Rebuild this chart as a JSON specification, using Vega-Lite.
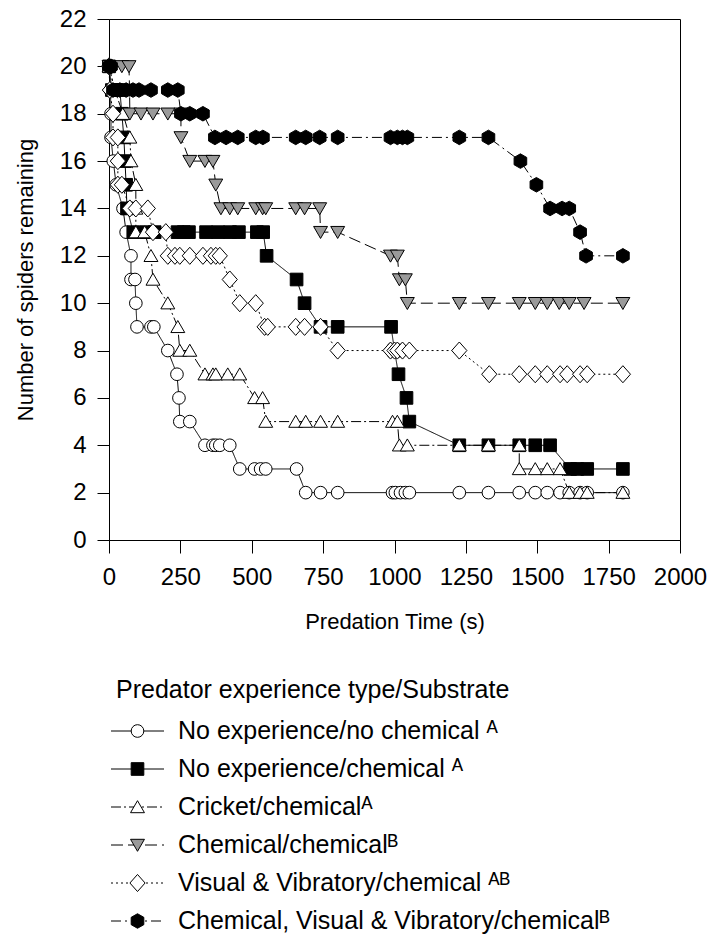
{
  "$schema": "https://vega.github.io/schema/vega-lite/v6.json",
  "padding": {"left": 13, "top": 6, "right": 5, "bottom": 5},
  "background": "white",
  "config": {
    "font": "Liberation Sans",
    "view": {"stroke": "black", "strokeWidth": 1},
    "axis": {"grid": false, "domainColor": "black", "tickColor": "black", "labelColor": "black", "titleColor": "black", "labelFont": "Liberation Sans", "titleFont": "Liberation Sans", "labelFontSize": 24, "titleFontSize": 22, "titleFontWeight": "normal", "domainWidth": 1, "tickWidth": 1, "labelFlush": false}
  },
  "datasets": {
    "pts": [
      {"s":"No experience/no chemical","t":0,"n":20},{"s":"No experience/no chemical","t":5,"n":19},{"s":"No experience/no chemical","t":7,"n":18},{"s":"No experience/no chemical","t":7,"n":17},{"s":"No experience/no chemical","t":15,"n":16},{"s":"No experience/no chemical","t":25,"n":15},{"s":"No experience/no chemical","t":49,"n":14},{"s":"No experience/no chemical","t":60,"n":13},{"s":"No experience/no chemical","t":77,"n":12},{"s":"No experience/no chemical","t":77,"n":11},{"s":"No experience/no chemical","t":91,"n":11},{"s":"No experience/no chemical","t":94,"n":10},{"s":"No experience/no chemical","t":98,"n":9},{"s":"No experience/no chemical","t":147,"n":9},{"s":"No experience/no chemical","t":157,"n":9},{"s":"No experience/no chemical","t":206,"n":8},{"s":"No experience/no chemical","t":238,"n":7},{"s":"No experience/no chemical","t":245,"n":6},{"s":"No experience/no chemical","t":248,"n":5},{"s":"No experience/no chemical","t":283,"n":5},{"s":"No experience/no chemical","t":336,"n":4},{"s":"No experience/no chemical","t":364,"n":4},{"s":"No experience/no chemical","t":374,"n":4},{"s":"No experience/no chemical","t":388,"n":4},{"s":"No experience/no chemical","t":423,"n":4},{"s":"No experience/no chemical","t":458,"n":3},{"s":"No experience/no chemical","t":510,"n":3},{"s":"No experience/no chemical","t":531,"n":3},{"s":"No experience/no chemical","t":549,"n":3},{"s":"No experience/no chemical","t":657,"n":3},{"s":"No experience/no chemical","t":689,"n":2},{"s":"No experience/no chemical","t":741,"n":2},{"s":"No experience/no chemical","t":801,"n":2},{"s":"No experience/no chemical","t":993,"n":2},{"s":"No experience/no chemical","t":1003,"n":2},{"s":"No experience/no chemical","t":1021,"n":2},{"s":"No experience/no chemical","t":1038,"n":2},{"s":"No experience/no chemical","t":1052,"n":2},{"s":"No experience/no chemical","t":1227,"n":2},{"s":"No experience/no chemical","t":1329,"n":2},{"s":"No experience/no chemical","t":1437,"n":2},{"s":"No experience/no chemical","t":1493,"n":2},{"s":"No experience/no chemical","t":1535,"n":2},{"s":"No experience/no chemical","t":1580,"n":2},{"s":"No experience/no chemical","t":1612,"n":2},{"s":"No experience/no chemical","t":1650,"n":2},{"s":"No experience/no chemical","t":1675,"n":2},{"s":"No experience/no chemical","t":1800,"n":2},
      {"s":"No experience/chemical","t":0,"n":20},{"s":"No experience/chemical","t":10,"n":19},{"s":"No experience/chemical","t":25,"n":19},{"s":"No experience/chemical","t":38,"n":19},{"s":"No experience/chemical","t":45,"n":18},{"s":"No experience/chemical","t":52,"n":17},{"s":"No experience/chemical","t":56,"n":16},{"s":"No experience/chemical","t":60,"n":15},{"s":"No experience/chemical","t":63,"n":14},{"s":"No experience/chemical","t":85,"n":13},{"s":"No experience/chemical","t":130,"n":13},{"s":"No experience/chemical","t":160,"n":13},{"s":"No experience/chemical","t":240,"n":13},{"s":"No experience/chemical","t":262,"n":13},{"s":"No experience/chemical","t":280,"n":13},{"s":"No experience/chemical","t":340,"n":13},{"s":"No experience/chemical","t":382,"n":13},{"s":"No experience/chemical","t":424,"n":13},{"s":"No experience/chemical","t":455,"n":13},{"s":"No experience/chemical","t":518,"n":13},{"s":"No experience/chemical","t":540,"n":13},{"s":"No experience/chemical","t":552,"n":12},{"s":"No experience/chemical","t":657,"n":11},{"s":"No experience/chemical","t":685,"n":10},{"s":"No experience/chemical","t":741,"n":9},{"s":"No experience/chemical","t":801,"n":9},{"s":"No experience/chemical","t":988,"n":9},{"s":"No experience/chemical","t":1000,"n":8},{"s":"No experience/chemical","t":1014,"n":7},{"s":"No experience/chemical","t":1042,"n":6},{"s":"No experience/chemical","t":1052,"n":5},{"s":"No experience/chemical","t":1227,"n":4},{"s":"No experience/chemical","t":1329,"n":4},{"s":"No experience/chemical","t":1437,"n":4},{"s":"No experience/chemical","t":1493,"n":4},{"s":"No experience/chemical","t":1545,"n":4},{"s":"No experience/chemical","t":1615,"n":3},{"s":"No experience/chemical","t":1640,"n":3},{"s":"No experience/chemical","t":1675,"n":3},{"s":"No experience/chemical","t":1800,"n":3},
      {"s":"Cricket/chemical","t":0,"n":20},{"s":"Cricket/chemical","t":20,"n":19},{"s":"Cricket/chemical","t":49,"n":18},{"s":"Cricket/chemical","t":73,"n":17},{"s":"Cricket/chemical","t":77,"n":16},{"s":"Cricket/chemical","t":94,"n":15},{"s":"Cricket/chemical","t":94,"n":14},{"s":"Cricket/chemical","t":94,"n":13},{"s":"Cricket/chemical","t":125,"n":13},{"s":"Cricket/chemical","t":147,"n":12},{"s":"Cricket/chemical","t":154,"n":11},{"s":"Cricket/chemical","t":206,"n":10},{"s":"Cricket/chemical","t":241,"n":9},{"s":"Cricket/chemical","t":248,"n":8},{"s":"Cricket/chemical","t":283,"n":8},{"s":"Cricket/chemical","t":336,"n":7},{"s":"Cricket/chemical","t":364,"n":7},{"s":"Cricket/chemical","t":374,"n":7},{"s":"Cricket/chemical","t":416,"n":7},{"s":"Cricket/chemical","t":458,"n":7},{"s":"Cricket/chemical","t":510,"n":6},{"s":"Cricket/chemical","t":538,"n":6},{"s":"Cricket/chemical","t":549,"n":5},{"s":"Cricket/chemical","t":654,"n":5},{"s":"Cricket/chemical","t":689,"n":5},{"s":"Cricket/chemical","t":741,"n":5},{"s":"Cricket/chemical","t":801,"n":5},{"s":"Cricket/chemical","t":993,"n":5},{"s":"Cricket/chemical","t":1010,"n":5},{"s":"Cricket/chemical","t":1017,"n":4},{"s":"Cricket/chemical","t":1045,"n":4},{"s":"Cricket/chemical","t":1227,"n":4},{"s":"Cricket/chemical","t":1329,"n":4},{"s":"Cricket/chemical","t":1437,"n":4},{"s":"Cricket/chemical","t":1437,"n":3},{"s":"Cricket/chemical","t":1493,"n":3},{"s":"Cricket/chemical","t":1535,"n":3},{"s":"Cricket/chemical","t":1580,"n":3},{"s":"Cricket/chemical","t":1612,"n":2},{"s":"Cricket/chemical","t":1650,"n":2},{"s":"Cricket/chemical","t":1675,"n":2},{"s":"Cricket/chemical","t":1800,"n":2},
      {"s":"Chemical/chemical","t":0,"n":20},{"s":"Chemical/chemical","t":45,"n":20},{"s":"Chemical/chemical","t":70,"n":20},{"s":"Chemical/chemical","t":72,"n":19},{"s":"Chemical/chemical","t":73,"n":18},{"s":"Chemical/chemical","t":112,"n":18},{"s":"Chemical/chemical","t":154,"n":18},{"s":"Chemical/chemical","t":206,"n":18},{"s":"Chemical/chemical","t":252,"n":18},{"s":"Chemical/chemical","t":252,"n":17},{"s":"Chemical/chemical","t":283,"n":16},{"s":"Chemical/chemical","t":336,"n":16},{"s":"Chemical/chemical","t":364,"n":16},{"s":"Chemical/chemical","t":374,"n":15},{"s":"Chemical/chemical","t":392,"n":14},{"s":"Chemical/chemical","t":423,"n":14},{"s":"Chemical/chemical","t":451,"n":14},{"s":"Chemical/chemical","t":514,"n":14},{"s":"Chemical/chemical","t":538,"n":14},{"s":"Chemical/chemical","t":549,"n":14},{"s":"Chemical/chemical","t":654,"n":14},{"s":"Chemical/chemical","t":685,"n":14},{"s":"Chemical/chemical","t":738,"n":14},{"s":"Chemical/chemical","t":741,"n":13},{"s":"Chemical/chemical","t":801,"n":13},{"s":"Chemical/chemical","t":986,"n":12},{"s":"Chemical/chemical","t":1010,"n":12},{"s":"Chemical/chemical","t":1017,"n":11},{"s":"Chemical/chemical","t":1038,"n":11},{"s":"Chemical/chemical","t":1045,"n":10},{"s":"Chemical/chemical","t":1227,"n":10},{"s":"Chemical/chemical","t":1329,"n":10},{"s":"Chemical/chemical","t":1437,"n":10},{"s":"Chemical/chemical","t":1493,"n":10},{"s":"Chemical/chemical","t":1535,"n":10},{"s":"Chemical/chemical","t":1577,"n":10},{"s":"Chemical/chemical","t":1612,"n":10},{"s":"Chemical/chemical","t":1664,"n":10},{"s":"Chemical/chemical","t":1800,"n":10},
      {"s":"Visual & Vibratory/chemical","t":0,"n":20},{"s":"Visual & Vibratory/chemical","t":3,"n":19},{"s":"Visual & Vibratory/chemical","t":14,"n":18},{"s":"Visual & Vibratory/chemical","t":14,"n":17},{"s":"Visual & Vibratory/chemical","t":31,"n":17},{"s":"Visual & Vibratory/chemical","t":31,"n":16},{"s":"Visual & Vibratory/chemical","t":31,"n":15},{"s":"Visual & Vibratory/chemical","t":45,"n":15},{"s":"Visual & Vibratory/chemical","t":73,"n":14},{"s":"Visual & Vibratory/chemical","t":94,"n":14},{"s":"Visual & Vibratory/chemical","t":136,"n":14},{"s":"Visual & Vibratory/chemical","t":154,"n":13},{"s":"Visual & Vibratory/chemical","t":199,"n":13},{"s":"Visual & Vibratory/chemical","t":206,"n":12},{"s":"Visual & Vibratory/chemical","t":231,"n":12},{"s":"Visual & Vibratory/chemical","t":248,"n":12},{"s":"Visual & Vibratory/chemical","t":283,"n":12},{"s":"Visual & Vibratory/chemical","t":329,"n":12},{"s":"Visual & Vibratory/chemical","t":357,"n":12},{"s":"Visual & Vibratory/chemical","t":374,"n":12},{"s":"Visual & Vibratory/chemical","t":388,"n":12},{"s":"Visual & Vibratory/chemical","t":423,"n":11},{"s":"Visual & Vibratory/chemical","t":458,"n":10},{"s":"Visual & Vibratory/chemical","t":514,"n":10},{"s":"Visual & Vibratory/chemical","t":545,"n":9},{"s":"Visual & Vibratory/chemical","t":556,"n":9},{"s":"Visual & Vibratory/chemical","t":654,"n":9},{"s":"Visual & Vibratory/chemical","t":685,"n":9},{"s":"Visual & Vibratory/chemical","t":741,"n":9},{"s":"Visual & Vibratory/chemical","t":801,"n":8},{"s":"Visual & Vibratory/chemical","t":986,"n":8},{"s":"Visual & Vibratory/chemical","t":1000,"n":8},{"s":"Visual & Vibratory/chemical","t":1010,"n":8},{"s":"Visual & Vibratory/chemical","t":1028,"n":8},{"s":"Visual & Vibratory/chemical","t":1052,"n":8},{"s":"Visual & Vibratory/chemical","t":1227,"n":8},{"s":"Visual & Vibratory/chemical","t":1332,"n":7},{"s":"Visual & Vibratory/chemical","t":1437,"n":7},{"s":"Visual & Vibratory/chemical","t":1493,"n":7},{"s":"Visual & Vibratory/chemical","t":1535,"n":7},{"s":"Visual & Vibratory/chemical","t":1580,"n":7},{"s":"Visual & Vibratory/chemical","t":1605,"n":7},{"s":"Visual & Vibratory/chemical","t":1650,"n":7},{"s":"Visual & Vibratory/chemical","t":1675,"n":7},{"s":"Visual & Vibratory/chemical","t":1800,"n":7},
      {"s":"Chemical, Visual & Vibratory/chemical","t":0,"n":20},{"s":"Chemical, Visual & Vibratory/chemical","t":7,"n":20},{"s":"Chemical, Visual & Vibratory/chemical","t":14,"n":19},{"s":"Chemical, Visual & Vibratory/chemical","t":38,"n":19},{"s":"Chemical, Visual & Vibratory/chemical","t":60,"n":19},{"s":"Chemical, Visual & Vibratory/chemical","t":84,"n":19},{"s":"Chemical, Visual & Vibratory/chemical","t":105,"n":19},{"s":"Chemical, Visual & Vibratory/chemical","t":147,"n":19},{"s":"Chemical, Visual & Vibratory/chemical","t":206,"n":19},{"s":"Chemical, Visual & Vibratory/chemical","t":241,"n":19},{"s":"Chemical, Visual & Vibratory/chemical","t":252,"n":18},{"s":"Chemical, Visual & Vibratory/chemical","t":283,"n":18},{"s":"Chemical, Visual & Vibratory/chemical","t":329,"n":18},{"s":"Chemical, Visual & Vibratory/chemical","t":371,"n":17},{"s":"Chemical, Visual & Vibratory/chemical","t":410,"n":17},{"s":"Chemical, Visual & Vibratory/chemical","t":451,"n":17},{"s":"Chemical, Visual & Vibratory/chemical","t":514,"n":17},{"s":"Chemical, Visual & Vibratory/chemical","t":539,"n":17},{"s":"Chemical, Visual & Vibratory/chemical","t":654,"n":17},{"s":"Chemical, Visual & Vibratory/chemical","t":689,"n":17},{"s":"Chemical, Visual & Vibratory/chemical","t":738,"n":17},{"s":"Chemical, Visual & Vibratory/chemical","t":801,"n":17},{"s":"Chemical, Visual & Vibratory/chemical","t":986,"n":17},{"s":"Chemical, Visual & Vibratory/chemical","t":1010,"n":17},{"s":"Chemical, Visual & Vibratory/chemical","t":1028,"n":17},{"s":"Chemical, Visual & Vibratory/chemical","t":1045,"n":17},{"s":"Chemical, Visual & Vibratory/chemical","t":1227,"n":17},{"s":"Chemical, Visual & Vibratory/chemical","t":1329,"n":17},{"s":"Chemical, Visual & Vibratory/chemical","t":1441,"n":16},{"s":"Chemical, Visual & Vibratory/chemical","t":1497,"n":15},{"s":"Chemical, Visual & Vibratory/chemical","t":1545,"n":14},{"s":"Chemical, Visual & Vibratory/chemical","t":1587,"n":14},{"s":"Chemical, Visual & Vibratory/chemical","t":1612,"n":14},{"s":"Chemical, Visual & Vibratory/chemical","t":1650,"n":13},{"s":"Chemical, Visual & Vibratory/chemical","t":1671,"n":12},{"s":"Chemical, Visual & Vibratory/chemical","t":1800,"n":12}
    ],
    "leg": [
      {"s":"No experience/no chemical","label":"No experience/no chemical ᴬ"},
      {"s":"No experience/chemical","label":"No experience/chemical ᴬ"},
      {"s":"Cricket/chemical","label":"Cricket/chemicalᴬ"},
      {"s":"Chemical/chemical","label":"Chemical/chemicalᴮ"},
      {"s":"Visual & Vibratory/chemical","label":"Visual & Vibratory/chemical ᴬᴮ"},
      {"s":"Chemical, Visual & Vibratory/chemical","label":"Chemical, Visual & Vibratory/chemicalᴮ"}
    ]
  },
  "bounds": "flush",
  "spacing": 172,
  "vconcat": [
    {
      "width": 571,
      "height": 521,
      "data": {"name": "pts"},
      "encoding": {
        "x": {"field": "t", "type": "quantitative", "scale": {"domain": [0, 2000], "nice": false, "zero": false},
              "axis": {"title": "Predation Time (s)", "values": [0,250,500,750,1000,1250,1500,1750,2000], "format": "d", "tickSize": 13, "labelPadding": 12, "titlePadding": 22, "labelOverlap": false, "labelFlush": false}},
        "y": {"field": "n", "type": "quantitative", "scale": {"domain": [0, 22], "nice": false},
              "axis": {"title": "Number of spiders remaining", "values": [0,2,4,6,8,10,12,14,16,18,20,22], "format": "d", "tickSize": 12, "labelPadding": 11, "titlePadding": 22, "labelFlush": false}}
      },
      "layer": [
        {
          "mark": {"type": "line", "color": "black", "strokeWidth": 1},
          "encoding": {
            "detail": {"field": "s", "type": "nominal"},
            "strokeDash": {"field": "s", "type": "nominal", "legend": null,
              "scale": {"domain": ["No experience/no chemical","No experience/chemical","Cricket/chemical","Chemical/chemical","Visual & Vibratory/chemical","Chemical, Visual & Vibratory/chemical"],
                        "range": [[1,0],[1,0],[10,3,2,3],[12,5],[2,3],[10,4,2,4]]}},
            "order": [{"field": "t", "type": "quantitative", "sort": "ascending"}, {"field": "n", "type": "quantitative", "sort": "descending"}]
          }
        },
        {
          "mark": {"type": "point", "filled": true, "opacity": 1, "size": 160, "stroke": "black", "strokeWidth": 1},
          "encoding": {
            "shape": {"field": "s", "type": "nominal", "legend": null,
              "scale": {"domain": ["No experience/no chemical","No experience/chemical","Cricket/chemical","Chemical/chemical","Visual & Vibratory/chemical","Chemical, Visual & Vibratory/chemical"],
                        "range": ["circle","square","M0,-1L1.1,0.9L-1.1,0.9Z","M0,1L1.1,-0.9L-1.1,-0.9Z","M-1.2,0L0,-1.35L1.2,0L0,1.35Z","M0,-1.15L1,-0.58L1,0.58L0,1.15L-1,0.58L-1,-0.58Z"]}},
            "fill": {"field": "s", "type": "nominal", "legend": null,
              "scale": {"domain": ["No experience/no chemical","No experience/chemical","Cricket/chemical","Chemical/chemical","Visual & Vibratory/chemical","Chemical, Visual & Vibratory/chemical"],
                        "range": ["white","black","white","#9a9a9a","white","black"]}}
          }
        }
      ]
    },
    {
      "width": 600,
      "height": 228,
      "view": {"stroke": null},
      "data": {"name": "leg"},
      "title": {"text": "Predator experience type/Substrate", "anchor": "start", "fontSize": 25, "fontWeight": "normal", "font": "Liberation Sans", "color": "black", "baseline": "alphabetic", "offset": -11, "dx": 7, "frame": "group"},
      "encoding": {
        "y": {"field": "s", "type": "nominal", "axis": null,
              "scale": {"type": "point", "padding": 0.5, "domain": ["No experience/no chemical","No experience/chemical","Cricket/chemical","Chemical/chemical","Visual & Vibratory/chemical","Chemical, Visual & Vibratory/chemical"]}}
      },
      "layer": [
        {
          "mark": {"type": "rule", "color": "black", "strokeWidth": 1},
          "encoding": {
            "x": {"datum": 2, "type": "quantitative", "scale": {"domain": [0, 600], "nice": false, "zero": false}, "axis": null},
            "x2": {"datum": 55},
            "strokeDash": {"field": "s", "type": "nominal", "legend": null,
              "scale": {"domain": ["No experience/no chemical","No experience/chemical","Cricket/chemical","Chemical/chemical","Visual & Vibratory/chemical","Chemical, Visual & Vibratory/chemical"],
                        "range": [[1,0],[1,0],[10,3,2,3],[12,5],[2,3],[10,4,2,4]]}}
          }
        },
        {
          "mark": {"type": "point", "filled": true, "opacity": 1, "size": 160, "stroke": "black", "strokeWidth": 1},
          "encoding": {
            "x": {"datum": 28.5, "type": "quantitative"},
            "shape": {"field": "s", "type": "nominal", "legend": null,
              "scale": {"domain": ["No experience/no chemical","No experience/chemical","Cricket/chemical","Chemical/chemical","Visual & Vibratory/chemical","Chemical, Visual & Vibratory/chemical"],
                        "range": ["circle","square","M0,-1L1.1,0.9L-1.1,0.9Z","M0,1L1.1,-0.9L-1.1,-0.9Z","M-1.2,0L0,-1.35L1.2,0L0,1.35Z","M0,-1.15L1,-0.58L1,0.58L0,1.15L-1,0.58L-1,-0.58Z"]}},
            "fill": {"field": "s", "type": "nominal", "legend": null,
              "scale": {"domain": ["No experience/no chemical","No experience/chemical","Cricket/chemical","Chemical/chemical","Visual & Vibratory/chemical","Chemical, Visual & Vibratory/chemical"],
                        "range": ["white","black","white","#9a9a9a","white","black"]}}
          }
        },
        {
          "mark": {"type": "text", "align": "left", "baseline": "middle", "fontSize": 25, "font": "Liberation Sans", "color": "black"},
          "encoding": {
            "x": {"datum": 69, "type": "quantitative"},
            "text": {"field": "label", "type": "nominal"}
          }
        }
      ]
    }
  ]
}
